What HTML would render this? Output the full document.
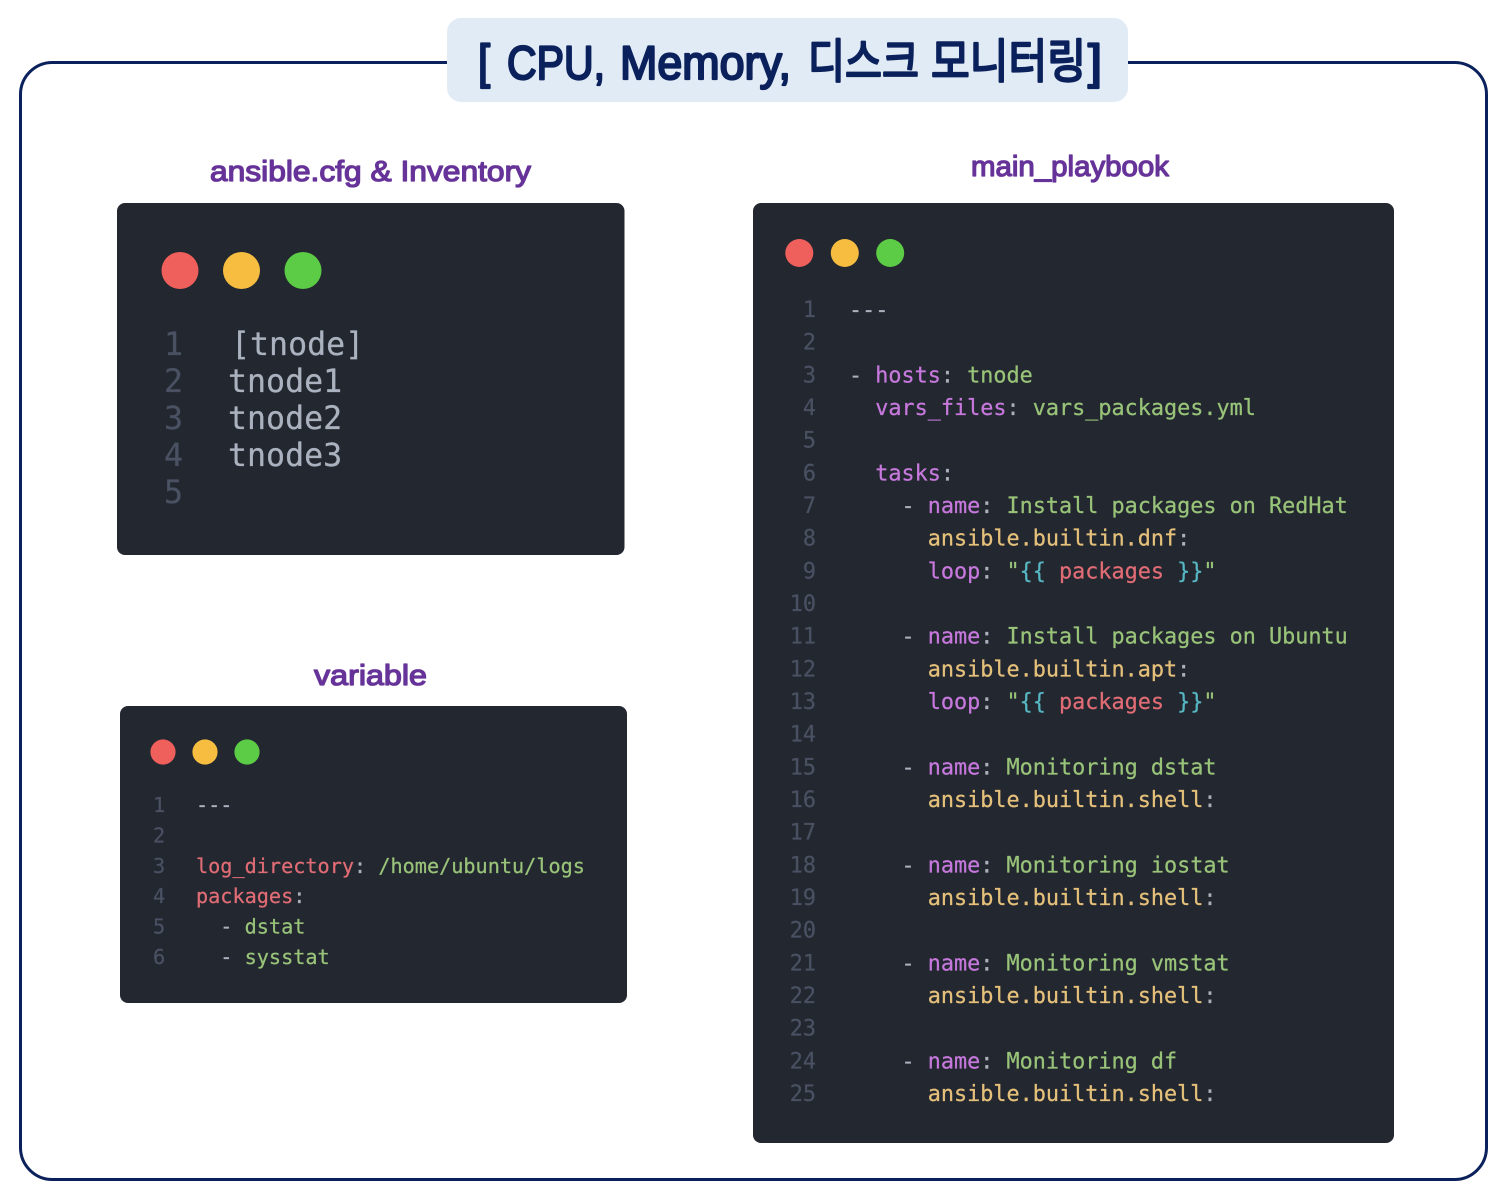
<!DOCTYPE html>
<html><head><meta charset="utf-8"><style>
html,body{margin:0;padding:0;background:#fff;width:1498px;height:1196px;overflow:hidden}
svg{display:block}
text{white-space:pre;font-family:"DejaVu Sans Mono","Liberation Mono",monospace;stroke-width:.25px}
text.h{font-family:"Liberation Sans","Noto Sans CJK KR",sans-serif;font-weight:400;stroke-linejoin:round;stroke-linecap:round}
.t{fill:#0a215c;stroke:#0a215c;font-size:47px;stroke-width:2.2px}
.s{fill:#663399;stroke:#663399;font-size:29px;stroke-width:1.3px}
.n{fill:#495162;stroke:#495162}.p{fill:#abb2bf;stroke:#abb2bf}.k{fill:#c678dd;stroke:#c678dd}.g{fill:#98c379;stroke:#98c379}.y{fill:#e5c07b;stroke:#e5c07b}.r{fill:#e06c75;stroke:#e06c75}.c{fill:#56b6c2;stroke:#56b6c2}
.m text{font-size:21.8px}.v text{font-size:20.2px}.i text{font-size:31.6px}
</style></head><body>
<svg width="1498" height="1196" viewBox="0 0 1498 1196" xmlns="http://www.w3.org/2000/svg">
<rect width="1498" height="1196" fill="#fff"/>
<rect x="20.5" y="62.5" width="1466" height="1117" rx="32" fill="#fff" stroke="#0a215c" stroke-width="3"/>
<rect x="447" y="18" width="681" height="84" rx="14" fill="#e1ebf6"/>
<text class="h t" x="478" y="78" textLength="12" lengthAdjust="spacingAndGlyphs">[</text>
<text class="h t" x="507" y="79" textLength="98" lengthAdjust="spacingAndGlyphs">CPU,</text>
<text class="h t" x="620" y="79" textLength="171" lengthAdjust="spacingAndGlyphs">Memory,</text>
<text class="h t" x="808" y="78" textLength="111" lengthAdjust="spacingAndGlyphs">디스크</text>
<text class="h t" x="931" y="78" textLength="155" lengthAdjust="spacingAndGlyphs">모니터링</text>
<text class="h t" x="1088" y="78" textLength="14" lengthAdjust="spacingAndGlyphs">]</text>
<text class="h s" x="210" y="181" textLength="321" lengthAdjust="spacingAndGlyphs">ansible.cfg &amp; Inventory</text>
<text class="h s" x="971" y="176" textLength="198" lengthAdjust="spacingAndGlyphs">main_playbook</text>
<text class="h s" x="314" y="685" textLength="113" lengthAdjust="spacingAndGlyphs">variable</text>

<rect x="117" y="203" width="507.5" height="352" rx="8" fill="#23272f"/>
<rect x="120" y="706" width="507" height="297" rx="8" fill="#23272f"/>
<rect x="753" y="203" width="641" height="940" rx="8" fill="#23272f"/>

<ellipse cx="180" cy="270.5" rx="18.5" ry="18.5" fill="#ef5f5b"/><ellipse cx="241.5" cy="270.5" rx="18.5" ry="18.5" fill="#f6bd41"/><ellipse cx="303" cy="270.5" rx="18.5" ry="18.5" fill="#5ccb46"/>
<circle cx="163" cy="752" r="12.6" fill="#ef5f5b"/><circle cx="205" cy="752" r="12.6" fill="#f6bd41"/><circle cx="247" cy="752" r="12.6" fill="#5ccb46"/>
<ellipse cx="799.3" cy="253" rx="14" ry="14" fill="#ef5f5b"/><ellipse cx="844.8" cy="253" rx="14" ry="14" fill="#f6bd41"/><ellipse cx="890.2" cy="253" rx="14" ry="14" fill="#5ccb46"/>

<g class="i">
<text class="n" x="164" y="355">1</text><text class="n" x="164" y="392">2</text><text class="n" x="164" y="429">3</text><text class="n" x="164" y="466">4</text><text class="n" x="164" y="503">5</text>
<text class="p" x="228" y="355" dx="3">[tnode]</text><text class="p" x="228" y="392">tnode1</text><text class="p" x="228" y="429">tnode2</text><text class="p" x="228" y="466">tnode3</text>
</g>

<g class="v">
<text class="n" x="153" y="812">1</text><text class="n" x="153" y="842.4">2</text><text class="n" x="153" y="872.8">3</text><text class="n" x="153" y="903.2">4</text><text class="n" x="153" y="933.6">5</text><text class="n" x="153" y="964">6</text>
<text class="p" x="196" y="812">---</text>
<text x="196" y="872.8"><tspan class="r">log_directory</tspan><tspan class="p">: </tspan><tspan class="g">/home/ubuntu/logs</tspan></text>
<text x="196" y="903.2"><tspan class="r">packages</tspan><tspan class="p">:</tspan></text>
<text x="196" y="933.6"><tspan class="p">  - </tspan><tspan class="g">dstat</tspan></text>
<text x="196" y="964"><tspan class="p">  - </tspan><tspan class="g">sysstat</tspan></text>
</g>

<g class="m">
<g class="n" text-anchor="end">
<text class="n" x="816" y="317">1</text><text class="n" x="816" y="349.7">2</text><text class="n" x="816" y="382.3">3</text><text class="n" x="816" y="415">4</text><text class="n" x="816" y="447.7">5</text><text class="n" x="816" y="480.3">6</text><text class="n" x="816" y="513">7</text><text class="n" x="816" y="545.7">8</text><text class="n" x="816" y="578.3">9</text><text class="n" x="816" y="611">10</text><text class="n" x="816" y="643.7">11</text><text class="n" x="816" y="676.3">12</text><text class="n" x="816" y="709">13</text><text class="n" x="816" y="741.7">14</text><text class="n" x="816" y="774.3">15</text><text class="n" x="816" y="807">16</text><text class="n" x="816" y="839.7">17</text><text class="n" x="816" y="872.3">18</text><text class="n" x="816" y="905">19</text><text class="n" x="816" y="937.7">20</text><text class="n" x="816" y="970.3">21</text><text class="n" x="816" y="1003">22</text><text class="n" x="816" y="1035.7">23</text><text class="n" x="816" y="1068.3">24</text><text class="n" x="816" y="1101">25</text>
</g>
<text class="p" x="849" y="317">---</text>
<text x="849" y="382.3"><tspan class="p">- </tspan><tspan class="k">hosts</tspan><tspan class="p">: </tspan><tspan class="g">tnode</tspan></text>
<text x="849" y="415"><tspan class="p">  </tspan><tspan class="k">vars_files</tspan><tspan class="p">: </tspan><tspan class="g">vars_packages.yml</tspan></text>
<text x="849" y="480.3"><tspan class="p">  </tspan><tspan class="k">tasks</tspan><tspan class="p">:</tspan></text>
<text x="849" y="513"><tspan class="p">    - </tspan><tspan class="k">name</tspan><tspan class="p">: </tspan><tspan class="g">Install packages on RedHat</tspan></text>
<text x="849" y="545.7"><tspan class="p">      </tspan><tspan class="y">ansible.builtin.dnf</tspan><tspan class="p">:</tspan></text>
<text x="849" y="578.3"><tspan class="p">      </tspan><tspan class="k">loop</tspan><tspan class="p">: </tspan><tspan class="g">"</tspan><tspan class="c">{{ </tspan><tspan class="r">packages</tspan><tspan class="c"> }}</tspan><tspan class="g">"</tspan></text>
<text x="849" y="643.7"><tspan class="p">    - </tspan><tspan class="k">name</tspan><tspan class="p">: </tspan><tspan class="g">Install packages on Ubuntu</tspan></text>
<text x="849" y="676.3"><tspan class="p">      </tspan><tspan class="y">ansible.builtin.apt</tspan><tspan class="p">:</tspan></text>
<text x="849" y="709"><tspan class="p">      </tspan><tspan class="k">loop</tspan><tspan class="p">: </tspan><tspan class="g">"</tspan><tspan class="c">{{ </tspan><tspan class="r">packages</tspan><tspan class="c"> }}</tspan><tspan class="g">"</tspan></text>
<text x="849" y="774.3"><tspan class="p">    - </tspan><tspan class="k">name</tspan><tspan class="p">: </tspan><tspan class="g">Monitoring dstat</tspan></text>
<text x="849" y="807"><tspan class="p">      </tspan><tspan class="y">ansible.builtin.shell</tspan><tspan class="p">:</tspan></text>
<text x="849" y="872.3"><tspan class="p">    - </tspan><tspan class="k">name</tspan><tspan class="p">: </tspan><tspan class="g">Monitoring iostat</tspan></text>
<text x="849" y="905"><tspan class="p">      </tspan><tspan class="y">ansible.builtin.shell</tspan><tspan class="p">:</tspan></text>
<text x="849" y="970.3"><tspan class="p">    - </tspan><tspan class="k">name</tspan><tspan class="p">: </tspan><tspan class="g">Monitoring vmstat</tspan></text>
<text x="849" y="1003"><tspan class="p">      </tspan><tspan class="y">ansible.builtin.shell</tspan><tspan class="p">:</tspan></text>
<text x="849" y="1068.3"><tspan class="p">    - </tspan><tspan class="k">name</tspan><tspan class="p">: </tspan><tspan class="g">Monitoring df</tspan></text>
<text x="849" y="1101"><tspan class="p">      </tspan><tspan class="y">ansible.builtin.shell</tspan><tspan class="p">:</tspan></text>
</g>
</svg>
</body></html>
